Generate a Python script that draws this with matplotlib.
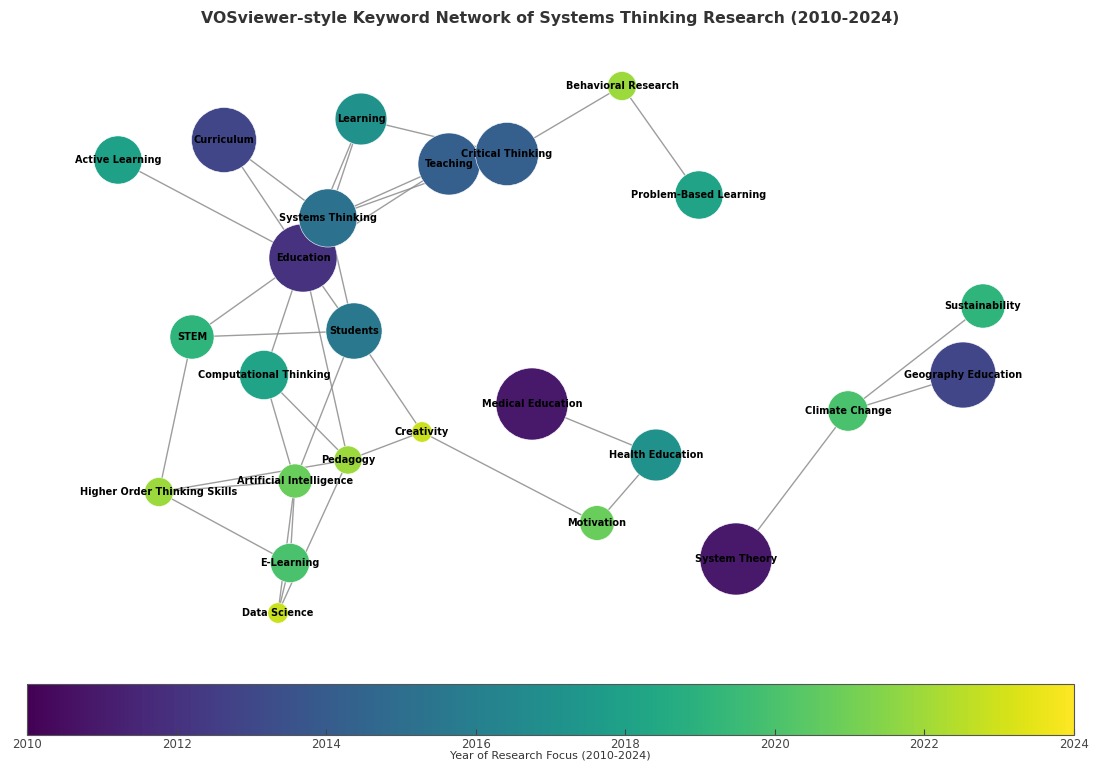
import matplotlib
matplotlib.use("Agg")
import matplotlib.pyplot as plt
import numpy as np

# ---- data ----
keywords = [
    "Education", "Curriculum", "Teaching", "Critical Thinking", "Learning",
    "Active Learning", "Systems Thinking", "STEM", "Students",
    "Computational Thinking", "Creativity", "Pedagogy", "Artificial Intelligence",
    "Higher Order Thinking Skills", "E-Learning", "Data Science",
    "Medical Education", "Health Education", "Motivation", "System Theory",
    "Climate Change", "Sustainability", "Geography Education",
    "Behavioral Research", "Problem-Based Learning",
]
# layout coordinates (x to the right, y downward)
layout_x = [303, 224, 449, 507, 361, 118, 328, 192, 354, 264, 422, 348, 295,
            159, 290, 278, 532, 656, 597, 736, 848, 983, 963, 622, 699]
layout_y = [258, 140, 164, 154, 119, 160, 218, 337, 331, 375, 432, 460, 481,
            492, 563, 613, 404, 455, 523, 559, 411, 306, 375, 86, 195]
occurrences = [100, 91, 83, 86, 58, 50, 73, 42, 68, 52, 9, 17, 25,
               18, 33, 9, 112, 58, 26, 112, 35, 42, 94, 18, 50]
years = [2012.0, 2012.9, 2014.2, 2014.2, 2017.0, 2018.0, 2015.2, 2019.1, 2015.6,
         2018.1, 2022.9, 2021.9, 2020.8, 2021.9, 2020.0, 2022.9, 2010.9, 2017.0,
         2020.8, 2010.9, 2020.0, 2019.1, 2012.9, 2021.9, 2018.1]
edges = [
    ("Learning", "Critical Thinking"), ("Critical Thinking", "Behavioral Research"),
    ("Behavioral Research", "Problem-Based Learning"),
    ("Learning", "Systems Thinking"), ("Learning", "Education"),
    ("Teaching", "Systems Thinking"), ("Critical Thinking", "Systems Thinking"),
    ("Teaching", "Education"),
    ("Curriculum", "Systems Thinking"), ("Curriculum", "Education"),
    ("Active Learning", "Education"), ("Education", "STEM"),
    ("Education", "Students"), ("Education", "Computational Thinking"),
    ("Education", "Pedagogy"), ("Systems Thinking", "Students"),
    ("STEM", "Students"), ("STEM", "Higher Order Thinking Skills"),
    ("Students", "Artificial Intelligence"), ("Students", "Creativity"),
    ("Computational Thinking", "Pedagogy"),
    ("Computational Thinking", "Artificial Intelligence"),
    ("Creativity", "Pedagogy"), ("Creativity", "Motivation"),
    ("Higher Order Thinking Skills", "Artificial Intelligence"),
    ("Higher Order Thinking Skills", "Pedagogy"),
    ("Higher Order Thinking Skills", "E-Learning"),
    ("Artificial Intelligence", "E-Learning"),
    ("Artificial Intelligence", "Data Science"),
    ("Pedagogy", "Data Science"), ("E-Learning", "Data Science"),
    ("Medical Education", "Health Education"), ("Health Education", "Motivation"),
    ("System Theory", "Climate Change"), ("Climate Change", "Sustainability"),
    ("Climate Change", "Geography Education"),
]
cbar_ticks = [2010, 2012, 2014, 2016, 2018, 2020, 2022, 2024]

# ---- figure ----
W, H = 1093, 764
fig = plt.figure(figsize=(W / 100, H / 100), dpi=100)
ax = fig.add_axes([0, 1 - 660 / H, 1, 620 / H])
ax.set_xlim(0, W)
ax.set_ylim(660, 40)
ax.axis("off")

idx = {k: i for i, k in enumerate(keywords)}
for a, b in edges:
    i, j = idx[a], idx[b]
    ax.plot([layout_x[i], layout_x[j]], [layout_y[i], layout_y[j]],
            color="#8c8c8c", lw=1.0, alpha=0.85, zorder=1, solid_capstyle="butt")

cmap = plt.get_cmap("viridis")
norm = matplotlib.colors.Normalize(vmin=2010, vmax=2024)
sizes = np.array(occurrences) * 24.0
sc = ax.scatter(layout_x, layout_y, s=sizes, c=years, cmap=cmap, norm=norm,
                edgecolors="white", linewidths=0.4, zorder=2)

for k, x, y in zip(keywords, layout_x, layout_y):
    ax.text(x, y, k, ha="center", va="center", fontsize=7,
            fontweight="bold", color="black", zorder=3)

fig.text(0.503, 1 - 19 / H,
         "VOSviewer-style Keyword Network of Systems Thinking Research (2010-2024)",
         ha="center", va="center", fontsize=11.3, fontweight="bold", color="#333333")

cax = fig.add_axes([27 / W, 1 - 735 / H, 1047 / W, 51 / H])
cb = fig.colorbar(sc, cax=cax, orientation="horizontal")
cb.set_ticks(cbar_ticks)
cb.ax.tick_params(labelsize=8.5, colors="#444444", direction="in", length=4, pad=2)
cb.outline.set_edgecolor("#555555")
cb.set_label("Year of Research Focus (2010-2024)", fontsize=8, color="#333333", labelpad=0)

fig.savefig("out.png", dpi=100)
